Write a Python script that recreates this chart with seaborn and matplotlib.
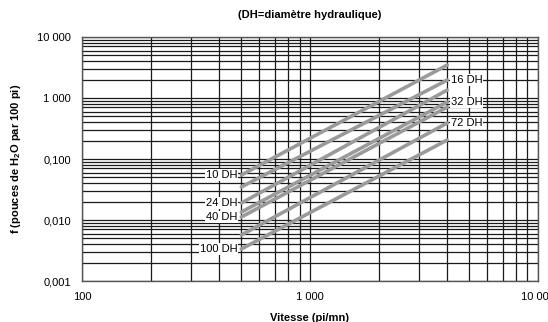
import pandas as pd
import matplotlib.pyplot as plt
import seaborn as sns
from matplotlib.ticker import LogLocator, FixedLocator, NullFormatter

# Data
dh_labels = ['10 DH', '16 DH', '24 DH', '32 DH', '40 DH', '72 DH', '100 DH']
vitesse = [500, 4000]
f_debut = [0.0547, 0.0348, 0.0190, 0.0135, 0.0112, 0.00568, 0.00335]
f_fin = [3.47, 1.97, 1.35, 0.86, 0.71, 0.389, 0.205]
label_side = ['left', 'right', 'left', 'right', 'left', 'right', 'left']

y_ticks = [10, 1, 0.1, 0.01, 0.001]
y_ticklabels = ['10 000', '1 000', '0,100', '0,010', '0,001']
x_ticks = [100, 1000, 10000]
x_ticklabels = ['100', '1 000', '10 000']

rows = []
for name, a, b in zip(dh_labels, f_debut, f_fin):
    rows.append({'DH': name, 'Vitesse': vitesse[0], 'f': a})
    rows.append({'DH': name, 'Vitesse': vitesse[1], 'f': b})
df = pd.DataFrame(rows)

sns.set_style('white', {'text.color': 'black', 'xtick.color': 'black',
                        'ytick.color': 'black', 'axes.labelcolor': 'black'})
plt.rcParams['font.family'] = ['Liberation Sans', 'DejaVu Sans']

fig = plt.figure(figsize=(5.48, 3.22), dpi=100)
ax = fig.add_axes([0.1496, 0.1273, 0.832, 0.7577])

ax.set_xscale('log')
ax.set_yscale('log')
ax.set_xlim(100, 10000)
ax.set_ylim(0.001, 10)

# grid
ax.xaxis.set_major_locator(FixedLocator(x_ticks))
ax.yaxis.set_major_locator(FixedLocator(y_ticks))
ax.xaxis.set_minor_locator(LogLocator(base=10, subs=range(2, 10), numticks=20))
ax.yaxis.set_minor_locator(LogLocator(base=10, subs=range(2, 10), numticks=20))
ax.xaxis.set_minor_formatter(NullFormatter())
ax.yaxis.set_minor_formatter(NullFormatter())
ax.grid(True, which='both', color='#1a1a1a', linewidth=0.9)
ax.set_axisbelow(True)

sns.lineplot(data=df, x='Vitesse', y='f', units='DH', estimator=None,
             color='#9a9a9a', linewidth=2.6, ax=ax, zorder=3)

for name, a, b, side in zip(dh_labels, f_debut, f_fin, label_side):
    if side == 'left':
        ax.text(vitesse[0] * 0.96, a, name, ha='right', va='center', fontsize=8,
                bbox=dict(facecolor='white', edgecolor='none', pad=0.5), zorder=4)
    else:
        ax.text(vitesse[1] * 1.04, b, name, ha='left', va='center', fontsize=8,
                bbox=dict(facecolor='white', edgecolor='none', pad=0.5), zorder=4)

ax.set_xticks(x_ticks)
ax.set_xticklabels(x_ticklabels, fontsize=8)
ax.set_yticks(y_ticks)
ax.set_yticklabels(y_ticklabels, fontsize=8)
ax.tick_params(which='both', length=0, pad=8)

for s in ax.spines.values():
    s.set_color('#555555')
    s.set_linewidth(1.0)

ax.set_xlabel('Vitesse (pi/mn)', fontsize=8, fontweight='bold')
ax.xaxis.set_label_coords(0.5, -0.13)
ax.set_ylabel('f (pouces de H$_\\mathregular{2}$O par 100 pi)', fontsize=8,
              fontweight='bold')
ax.yaxis.set_label_coords(-0.13, 0.5)
ax.set_title('(DH=diamètre hydraulique)', fontsize=8, fontweight='bold', pad=14)

fig.savefig('out.png', dpi=100)
